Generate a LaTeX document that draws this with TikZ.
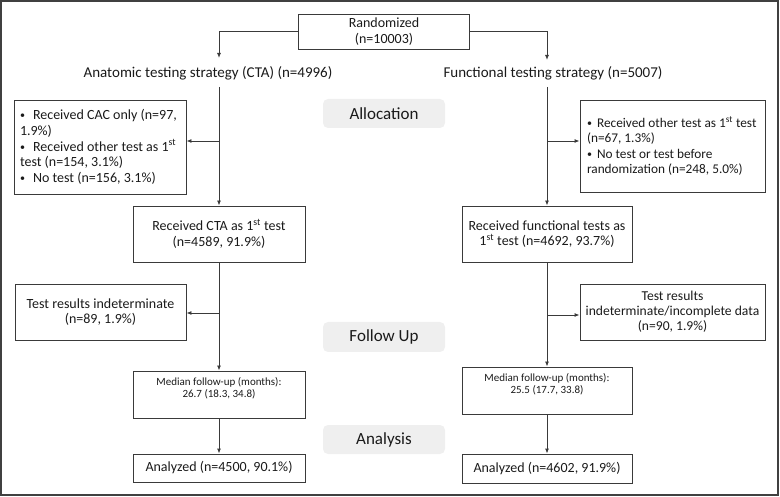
\documentclass[tikz,border=0pt]{standalone}
\usepackage{fontspec}
\setmainfont{Carlito}
\usetikzlibrary{arrows.meta}
\definecolor{lncol}{HTML}{3A3A3A}
\definecolor{framecol}{HTML}{404040}
\definecolor{lblfill}{HTML}{EFEFEF}
\definecolor{txtcol}{HTML}{1A1A1A}
\newcommand{\bitem}[2]{\par\hangindent=#1\hangafter=1\noindent\makebox[#1][l]{\fontsize{10}{10}\selectfont\raisebox{1pt}{\textbullet}}#2}
\newcommand{\sts}{\textsuperscript{st}}
\tikzset{
  boxnode/.style={draw=lncol, line width=0.9pt, rectangle, inner sep=0pt, align=center, text=txtcol, font=\fontsize{14}{15.7}\selectfont},
  lblnode/.style={fill=lblfill, rounded corners=5pt, inner sep=0pt, minimum width=122pt, text=txtcol, font=\fontsize{17}{18}\selectfont},
  conn/.style={draw=lncol, line width=0.9pt},
  arr/.style={conn, -{Latex[length=5pt,width=4pt]}},
}
\begin{document}
\begin{tikzpicture}[x=1pt,y=-1pt]
\useasboundingbox (0,0) rectangle (780,497);
\draw[framecol, line width=2pt] (1,1) rectangle (778,495);

% top
\node[boxnode, minimum width=171pt, minimum height=35pt, font=\fontsize{14}{16}\selectfont] (rand) at (384,31.5) {Randomized\\(n=10003)};
\node[font=\fontsize{15}{16}\selectfont, text=txtcol, inner sep=0pt] (ctaT) at (208,73) {Anatomic testing strategy (CTA) (n=4996)};
\node[font=\fontsize{15}{16}\selectfont, text=txtcol, inner sep=0pt] (funT) at (553,73) {Functional testing strategy (n=5007)};
\coordinate (lA) at (219,58);
\coordinate (rA) at (547,60);
\draw[arr] (rand.west) -| (lA);
\draw[arr] (rand.east) -| (rA);

% labels
\node[lblnode, minimum height=29pt] (alloc) at (384,113.5) {Allocation};
\node[lblnode, minimum height=30pt] (follow) at (384,337) {Follow Up};
\node[lblnode, minimum height=29pt] (analy) at (384,439.5) {Analysis};

% left column
\node[boxnode, minimum width=172pt, minimum height=94pt] (exL1) at (100,147) {%
  \begin{minipage}{160pt}\raggedright\fontsize{14}{15.7}\selectfont
  \bitem{13pt}{Received CAC only (n=97,\\1.9\%)}
  \bitem{13pt}{Received other test as 1\sts\\test (n=154, 3.1\%)}
  \bitem{13pt}{No test (n=156, 3.1\%)}
  \end{minipage}};
\node[boxnode, minimum width=172pt, minimum height=56pt] (cta) at (219,234) {Received CTA as 1\sts{} test\\(n=4589, 91.9\%)};
\node[boxnode, minimum width=171pt, minimum height=56pt] (exL2) at (100.5,312) {Test results indeterminate\\(n=89, 1.9\%)};
\node[boxnode, minimum width=172pt, minimum height=47pt] (medL) at (219,394.5) {};
\node[font=\fontsize{11}{12.5}\selectfont, text=txtcol, align=center, inner sep=0pt, anchor=north] (medLt) at (219,377) {Median follow-up (months):\\26.7 (18.3, 34.8)};
\node[boxnode, minimum width=172pt, minimum height=28pt] (anL) at (219,468) {Analyzed (n=4500, 90.1\%)};

\coordinate (lTop) at (219,87);
\coordinate (lB1) at (219,141);
\coordinate (lB2) at (219,313);
\draw[arr] (lTop) -- (cta.north);
\draw[arr] (lB1) -- (lB1 -| exL1.east);
\draw[arr] (cta.south) -- (medL.north);
\draw[arr] (lB2) -- (lB2 -| exL2.east);
\draw[arr] (medL.south) -- (anL.north);

% right column
\node[boxnode, minimum width=185pt, minimum height=92pt] (exR1) at (672.5,146) {%
  \begin{minipage}{171pt}\raggedright\fontsize{13.3}{15.5}\selectfont
  \bitem{10pt}{\mbox{Received other test as 1\sts{} test}\\(n=67, 1.3\%)}
  \bitem{10pt}{No test or test before\\randomization (n=248, 5.0\%)}
  \end{minipage}};
\node[boxnode, minimum width=170pt, minimum height=56pt] (fun) at (547,234) {Received functional tests as\\1\sts{} test (n=4692, 93.7\%)};
\node[boxnode, minimum width=185pt, minimum height=56pt, font=\fontsize{13.6}{15}\selectfont] (exR2) at (672.5,312) {Test results\\indeterminate/incomplete data\\(n=90, 1.9\%)};
\node[boxnode, minimum width=170pt, minimum height=47pt] (medR) at (547,390.5) {};
\node[font=\fontsize{11}{12.5}\selectfont, text=txtcol, align=center, inner sep=0pt, anchor=north] (medRt) at (547,373) {Median follow-up (months):\\25.5 (17.7, 33.8)};
\node[boxnode, minimum width=170pt, minimum height=29pt] (anR) at (547,468.5) {Analyzed (n=4602, 91.9\%)};

\coordinate (rTop) at (547,87);
\coordinate (rB1) at (547,141);
\coordinate (rB2) at (547,315);
\draw[arr] (rTop) -- (fun.north);
\draw[arr] (rB1) -- (rB1 -| exR1.west);
\draw[arr] (fun.south) -- (medR.north);
\draw[arr] (rB2) -- (rB2 -| exR2.west);
\draw[arr] (medR.south) -- (anR.north);
\end{tikzpicture}
\end{document}
